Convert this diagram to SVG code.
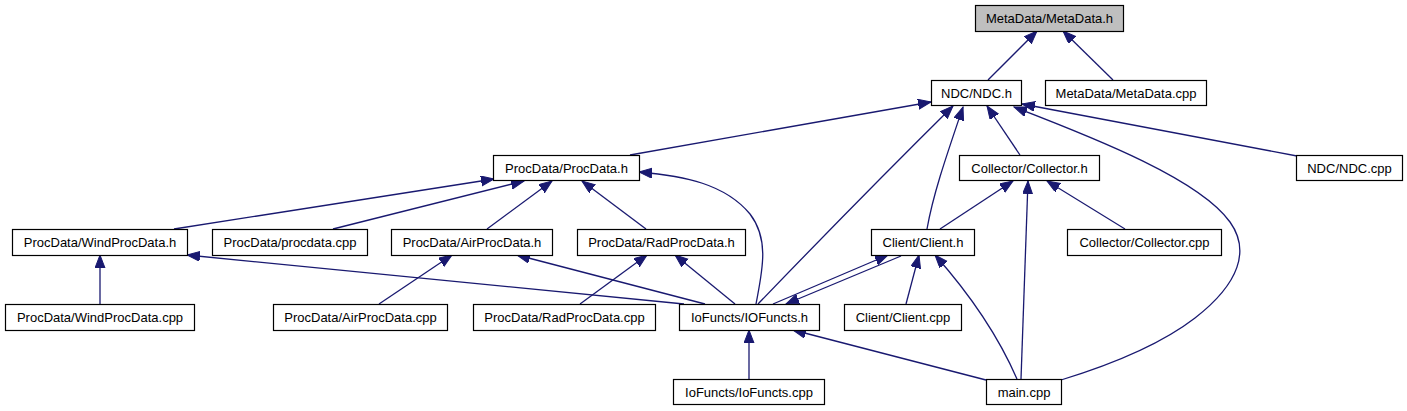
<svg xmlns="http://www.w3.org/2000/svg" width="1407" height="411" viewBox="0 0 1407 411">
<style>
.n rect{fill:#ffffff;stroke:#000000;stroke-width:1.2}
.n text{font-family:"Liberation Sans",Arial,sans-serif;font-size:13px;fill:#000000;text-anchor:middle}
#edges path{fill:none;stroke:#191970;stroke-width:1.3;marker-end:url(#ah)}
</style>
<defs>
<marker id="ah" markerWidth="14" markerHeight="11" refX="13" refY="5" orient="auto" markerUnits="userSpaceOnUse">
<path d="M0,0 L13,5 L0,10 Z" fill="#191970" stroke="#191970" stroke-width="1"/>
</marker>
</defs>
<rect width="1407" height="411" fill="#ffffff"/>
<g id="edges">
<path d="M988,80 L1037,31"/>
<path d="M1113,80 L1063,31"/>
<path d="M630,155 L931,102"/>
<path d="M174,229 L494,179"/>
<path d="M333,229 L524,181"/>
<path d="M487,229 L552,181"/>
<path d="M646,229 L582,181"/>
<path d="M756,304 C762,272 770,240 750,214 C725,184 685,176 639,172"/>
<path d="M100,304 L100,255"/>
<path d="M684,304 L187,255"/>
<path d="M379,304 L452,255"/>
<path d="M705,304 L517,255"/>
<path d="M580,304 L647,255"/>
<path d="M735,304 L675,255"/>
<path d="M758,304 Q862,196 953,106"/>
<path d="M927,229 C933,195 945,160 963,107"/>
<path d="M1020,155 L987,106"/>
<path d="M1061,380 C1110,365 1160,345 1195,318 C1240,283 1250,250 1230,222 C1200,180 1100,140 1014,107"/>
<path d="M1297,156 L1022,104"/>
<path d="M940,229 L1013,181"/>
<path d="M1021,379 L1028,181"/>
<path d="M1125,229 L1047,181"/>
<path d="M906,304 L919,255"/>
<path d="M1017,379 C1000,340 975,300 935,255"/>
<path d="M773,304 L888,255"/>
<path d="M901,256 L786,304"/>
<path d="M749,379 L749,330"/>
<path d="M986,380 L793,330"/>
</g>
<g id="metadata_h" class="n"><rect x="975.5" y="5.5" width="148" height="26" style="fill:#bfbfbf"/><text x="1049.5" y="23">MetaData/MetaData.h</text></g>
<g id="ndc_h" class="n"><rect x="931.5" y="80.5" width="90" height="25"/><text x="976.5" y="97.5">NDC/NDC.h</text></g>
<g id="metadata_cpp" class="n"><rect x="1045.5" y="80.5" width="161" height="25"/><text x="1126" y="97.5">MetaData/MetaData.cpp</text></g>
<g id="ndc_cpp" class="n"><rect x="1296.5" y="155.5" width="106" height="25"/><text x="1349.5" y="172.5">NDC/NDC.cpp</text></g>
<g id="procdata_h" class="n"><rect x="493.5" y="155.5" width="146" height="25"/><text x="566.5" y="172.5">ProcData/ProcData.h</text></g>
<g id="collector_h" class="n"><rect x="959.5" y="155.5" width="140" height="25"/><text x="1029.5" y="172.5">Collector/Collector.h</text></g>
<g id="windprocdata_h" class="n"><rect x="12.5" y="229.5" width="175" height="26"/><text x="100" y="247">ProcData/WindProcData.h</text></g>
<g id="procdata_cpp" class="n"><rect x="212.5" y="229.5" width="155" height="26"/><text x="290" y="247">ProcData/procdata.cpp</text></g>
<g id="airprocdata_h" class="n"><rect x="391.5" y="229.5" width="161" height="26"/><text x="472" y="247">ProcData/AirProcData.h</text></g>
<g id="radprocdata_h" class="n"><rect x="577.5" y="229.5" width="168" height="26"/><text x="661.5" y="247">ProcData/RadProcData.h</text></g>
<g id="client_h" class="n"><rect x="871.5" y="229.5" width="103" height="26"/><text x="923" y="247">Client/Client.h</text></g>
<g id="collector_cpp" class="n"><rect x="1067.5" y="229.5" width="154" height="26"/><text x="1144.5" y="247">Collector/Collector.cpp</text></g>
<g id="windprocdata_cpp" class="n"><rect x="5.5" y="304.5" width="189" height="26"/><text x="100" y="322">ProcData/WindProcData.cpp</text></g>
<g id="airprocdata_cpp" class="n"><rect x="273.5" y="304.5" width="174" height="26"/><text x="360.5" y="322">ProcData/AirProcData.cpp</text></g>
<g id="radprocdata_cpp" class="n"><rect x="473.5" y="304.5" width="182" height="26"/><text x="564.5" y="322">ProcData/RadProcData.cpp</text></g>
<g id="iofuncts_h" class="n"><rect x="679.5" y="304.5" width="140" height="26"/><text x="749.5" y="322">IoFuncts/IOFuncts.h</text></g>
<g id="client_cpp" class="n"><rect x="844.5" y="304.5" width="117" height="26"/><text x="903" y="322">Client/Client.cpp</text></g>
<g id="iofuncts_cpp" class="n"><rect x="673.5" y="379.5" width="151" height="25"/><text x="749" y="396.5">IoFuncts/IoFuncts.cpp</text></g>
<g id="main_cpp" class="n"><rect x="986.5" y="379.5" width="75" height="25"/><text x="1024" y="396.5">main.cpp</text></g>
</svg>
